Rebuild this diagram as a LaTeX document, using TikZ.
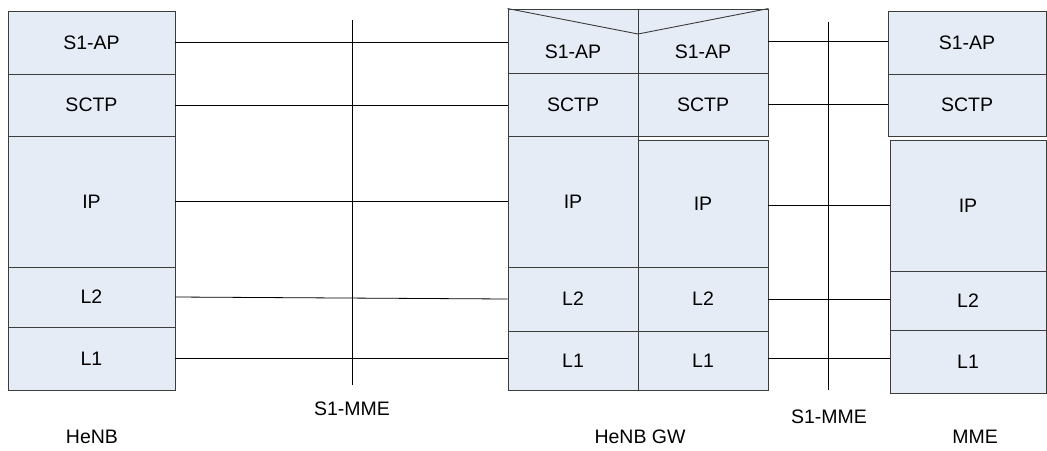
\documentclass[tikz,border=0pt]{standalone}
\usepackage{fontspec}
\setmainfont{Liberation Sans}
\definecolor{layerfill}{RGB}{230,236,246}
\definecolor{layerline}{RGB}{60,60,60}
\tikzset{
  layer/.style={draw=layerline, fill=layerfill, line width=0.9pt, inner sep=0pt, font=\fontsize{19.5}{22}\selectfont},
  link/.style={draw=black, line width=0.8pt},
  caption/.style={font=\fontsize{19.5}{22}\selectfont}
}
\begin{document}
\begin{tikzpicture}[x=1pt, y=-1pt]
\useasboundingbox (0,0) rectangle (1047,450);

% HeNB stack
\node (henbApp) [layer, minimum width=167, minimum height=63] at (91.5, 42.5) {S1-AP};
\node (henbSctp) [layer, minimum width=167, minimum height=62] at (91.5, 105) {SCTP};
\node (henbIp) [layer, minimum width=167, minimum height=131] at (91.5, 201.5) {IP};
\node (henbLtwo) [layer, minimum width=167, minimum height=60] at (91.5, 297) {L2};
\node (henbLone) [layer, minimum width=167, minimum height=63] at (91.5, 358.5) {L1};

% HeNB GW, towards HeNB
\node (gwAppA) [layer, minimum width=130, minimum height=64] at (573, 41) {};
\node (gwSctpA) [layer, minimum width=130, minimum height=63] at (573, 104.5) {SCTP};
\node (gwIpA) [layer, minimum width=130, minimum height=131] at (573, 201.5) {IP};
\node (gwLtwoA) [layer, minimum width=130, minimum height=64] at (573, 299) {L2};
\node (gwLoneA) [layer, minimum width=130, minimum height=59] at (573, 360.5) {L1};

% HeNB GW, towards MME
\node (gwAppB) [layer, minimum width=130, minimum height=64] at (703, 41) {};
\node (gwSctpB) [layer, minimum width=130, minimum height=63] at (703, 104.5) {SCTP};
\node (gwIpB) [layer, minimum width=130, minimum height=127] at (703, 203.5) {IP};
\node (gwLtwoB) [layer, minimum width=130, minimum height=64] at (703, 299) {L2};
\node (gwLoneB) [layer, minimum width=130, minimum height=59] at (703, 360.5) {L1};

\draw [layerline, line width=0.9pt] (gwAppA.north west) -- (638, 34) -- (gwAppB.north east);
\node (gwAppAtext) [caption] at (573, 52) {S1-AP};
\node (gwAppBtext) [caption] at (703, 52) {S1-AP};

% MME stack
\node (mmeApp) [layer, minimum width=158, minimum height=63] at (967, 42.5) {S1-AP};
\node (mmeSctp) [layer, minimum width=158, minimum height=62] at (967, 105) {SCTP};
\node (mmeIp) [layer, minimum width=156, minimum height=131] at (968, 205.5) {IP};
\node (mmeLtwo) [layer, minimum width=156, minimum height=59] at (968, 300.5) {L2};
\node (mmeLone) [layer, minimum width=156, minimum height=63] at (968, 361.5) {L1};

% peer links
\draw [link] (henbApp.east) -- (henbApp.east -| gwAppA.west);
\draw [link] (henbSctp.east) -- (henbSctp.east -| gwSctpA.west);
\draw [link] (henbIp.east) -- (henbIp.east -| gwIpA.west);
\draw [link] (henbLtwo.east) -- (gwLtwoA.west);
\draw [link] (henbLone.east) -- (henbLone.east -| gwLoneA.west);

\draw [link] (gwAppB.east) -- (gwAppB.east -| mmeApp.west);
\draw [link] (gwSctpB.east) -- (gwSctpB.east -| mmeSctp.west);
\draw [link] (mmeIp.west -| gwIpB.east) -- (mmeIp.west);
\draw [link] (gwLtwoB.east) -- (gwLtwoB.east -| mmeLtwo.west);
\draw [link] (henbLone.east -| gwLoneB.east) -- (henbLone.east -| mmeLone.west);

% reference points
\coordinate (ifaceAtop) at (352, 20);
\coordinate (ifaceAbot) at (352, 385);
\draw [link] (ifaceAtop) -- (ifaceAbot);
\coordinate (ifaceBtop) at (828, 22);
\coordinate (ifaceBbot) at (828, 390);
\draw [link] (ifaceBtop) -- (ifaceBbot);

\node (ifaceAlabel) [caption] at (352, 409) {S1-MME};
\node (ifaceBlabel) [caption] at (829, 417) {S1-MME};

\node (henbName) [caption] at (92, 437) {HeNB};
\node (gwName) [caption] at (640, 437) {HeNB GW};
\node (mmeName) [caption] at (975, 437) {MME};
\end{tikzpicture}
\end{document}
